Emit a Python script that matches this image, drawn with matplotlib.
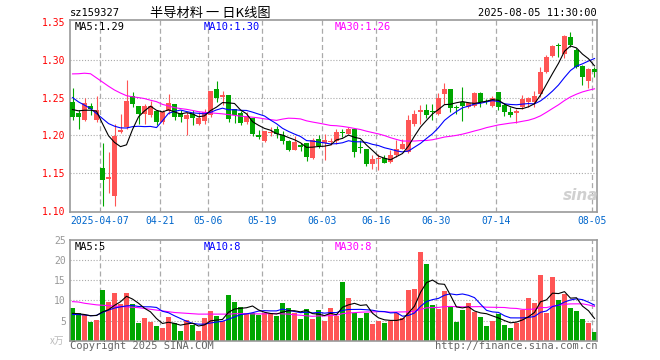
import matplotlib
matplotlib.use("Agg")
import matplotlib.pyplot as plt

plt.rcParams['font.family'] = ['DejaVu Sans Mono']

# ---- daily bars (sz159327, 2025-03-28 .. 2025-08-05) ----
opens = [1.2446, 1.2298, 1.2200, 1.2386, 1.2200, 1.1565, 1.1418, 1.1202, 1.2047, 1.2113,
         1.2518, 1.2386, 1.2280, 1.2276, 1.2320, 1.2179, 1.2324, 1.2412, 1.2298, 1.2223,
         1.2280, 1.2148, 1.2188, 1.2267, 1.2610, 1.2509, 1.2531, 1.2350, 1.2298, 1.2179,
         1.2236, 1.2003, 1.1924, 1.2034, 1.2082, 1.2003, 1.1924, 1.1814, 1.1867, 1.1896,
         1.1697, 1.1949, 1.1905, 1.1915, 1.1924, 1.2047, 1.2025, 1.2082, 1.1850, 1.1818,
         1.1620, 1.1686, 1.1705, 1.1651, 1.1743, 1.1827, 1.1787, 1.2157, 1.2311, 1.2342,
         1.2324, 1.2289, 1.2553, 1.2610, 1.2373, 1.2443, 1.2371, 1.2388, 1.2564, 1.2446,
         1.2388, 1.2573, 1.2402, 1.2314, 1.2292, 1.2371, 1.2446, 1.2446, 1.2542, 1.2842,
         1.3048, 1.3185, 1.3075, 1.3304, 1.3128, 1.2916, 1.2723, 1.2873]
highs = [1.2627, 1.2333, 1.2500, 1.2430, 1.2518, 1.1896, 1.1783, 1.2157, 1.2289, 1.2729,
         1.2575, 1.2386, 1.2420, 1.2452, 1.2320, 1.2333, 1.2553, 1.2420, 1.2333, 1.2310,
         1.2333, 1.2310, 1.2355, 1.2588, 1.2720, 1.2588, 1.2531, 1.2350, 1.2324, 1.2311,
         1.2236, 1.2078, 1.2060, 1.2113, 1.2130, 1.2060, 1.1946, 1.1990, 1.1900, 1.1896,
         1.1960, 1.2000, 1.2016, 1.1970, 1.2091, 1.2091, 1.2113, 1.2082, 1.1946, 1.1818,
         1.1739, 1.1752, 1.1739, 1.1805, 1.1937, 1.1959, 1.2271, 1.2333, 1.2399, 1.2412,
         1.2412, 1.2562, 1.2698, 1.2610, 1.2408, 1.2641, 1.2446, 1.2578, 1.2578, 1.2480,
         1.2520, 1.2573, 1.2424, 1.2371, 1.2344, 1.2534, 1.2512, 1.2586, 1.2908, 1.3062,
         1.3194, 1.3216, 1.3321, 1.3370, 1.3150, 1.2930, 1.2886, 1.2899]
lows = [1.2204, 1.2080, 1.2187, 1.2267, 1.2180, 1.1066, 1.1242, 1.1066, 1.2034, 1.2091,
        1.2377, 1.2157, 1.2157, 1.2245, 1.2135, 1.2157, 1.2280, 1.2200, 1.2179, 1.2003,
        1.2135, 1.2135, 1.2157, 1.2245, 1.2443, 1.2408, 1.2174, 1.2166, 1.2135, 1.2157,
        1.1990, 1.1958, 1.1915, 1.1990, 1.1972, 1.1893, 1.1796, 1.1805, 1.1800, 1.1665,
        1.1690, 1.1830, 1.1673, 1.1870, 1.1893, 1.1980, 1.2016, 1.1717, 1.1774, 1.1594,
        1.1563, 1.1541, 1.1630, 1.1633, 1.1721, 1.1818, 1.1774, 1.2122, 1.2157, 1.2236,
        1.2201, 1.2267, 1.2421, 1.2311, 1.2289, 1.2192, 1.2358, 1.2371, 1.2371, 1.2410,
        1.2370, 1.2336, 1.2256, 1.2239, 1.2168, 1.2344, 1.2380, 1.2371, 1.2512, 1.2820,
        1.3040, 1.3040, 1.3018, 1.3172, 1.2886, 1.2666, 1.2622, 1.2776]
closes = [1.2240, 1.2245, 1.2430, 1.2355, 1.2333, 1.1410, 1.1453, 1.1990, 1.2073, 1.2452,
          1.2420, 1.2289, 1.2386, 1.2386, 1.2179, 1.2310, 1.2434, 1.2245, 1.2245, 1.2267,
          1.2236, 1.2236, 1.2311, 1.2588, 1.2500, 1.2535, 1.2218, 1.2267, 1.2166, 1.2245,
          1.2016, 1.1976, 1.2060, 1.2047, 1.2016, 1.1924, 1.1814, 1.1915, 1.1845, 1.1710,
          1.1940, 1.1860, 1.1935, 1.1924, 1.2047, 1.2038, 1.2082, 1.1783, 1.1840, 1.1620,
          1.1686, 1.1705, 1.1642, 1.1739, 1.1827, 1.1893, 1.2205, 1.2289, 1.2342, 1.2267,
          1.2315, 1.2500, 1.2610, 1.2368, 1.2368, 1.2390, 1.2424, 1.2564, 1.2446, 1.2440,
          1.2490, 1.2380, 1.2314, 1.2270, 1.2327, 1.2481, 1.2498, 1.2520, 1.2842, 1.3040,
          1.3185, 1.3180, 1.3312, 1.3194, 1.2908, 1.2776, 1.2877, 1.2842]
volumes = [8.2, 6.8, 6.5, 4.7, 5.1, 12.6, 9.6, 11.9, 9.1, 11.9,
           9.2, 4.4, 5.7, 4.6, 3.6, 3.1, 5.9, 4.3, 2.4, 5.1,
           4.0, 2.4, 5.7, 7.4, 6.1, 4.8, 11.3, 9.7, 8.3, 6.8,
           7.0, 6.4, 6.8, 6.8, 6.1, 9.3, 8.2, 6.8, 5.4, 7.9,
           5.3, 7.6, 5.0, 8.2, 6.1, 14.6, 10.6, 6.9, 5.6, 6.9,
           4.1, 4.9, 4.4, 4.9, 6.9, 5.6, 12.6, 12.9, 22.0, 19.0,
           8.8, 7.9, 12.3, 8.3, 4.6, 7.6, 9.3, 7.1, 5.9, 3.6,
           4.9, 6.7, 3.9, 3.1, 4.5, 7.6, 10.6, 9.3, 16.3, 6.9,
           15.9, 10.1, 11.7, 8.2, 7.4, 5.5, 4.4, 2.1]

# moving-average lines as drawn on the chart
ma5 = [1.2342, 1.2325, 1.2333, 1.2333, 1.2321, 1.2155, 1.1996, 1.1908, 1.1852, 1.1876,
       1.2078, 1.2245, 1.2324, 1.2387, 1.2332, 1.2310, 1.2339, 1.2311, 1.2283, 1.2300,
       1.2285, 1.2246, 1.2259, 1.2328, 1.2374, 1.2434, 1.2430, 1.2422, 1.2337, 1.2286,
       1.2182, 1.2134, 1.2093, 1.2069, 1.2023, 1.2005, 1.1972, 1.1943, 1.1903, 1.1842,
       1.1845, 1.1854, 1.1858, 1.1874, 1.1941, 1.1961, 1.2005, 1.1975, 1.1958, 1.1873,
       1.1802, 1.1727, 1.1699, 1.1678, 1.1720, 1.1761, 1.1861, 1.1991, 1.2111, 1.2199,
       1.2284, 1.2343, 1.2407, 1.2412, 1.2432, 1.2447, 1.2432, 1.2423, 1.2438, 1.2453,
       1.2473, 1.2464, 1.2414, 1.2379, 1.2356, 1.2354, 1.2378, 1.2419, 1.2534, 1.2676,
       1.2817, 1.2953, 1.3112, 1.3182, 1.3156, 1.3074, 1.3013, 1.2919]
ma10 = [1.2500, 1.2443, 1.2400, 1.2355, 1.2289, 1.2223, 1.2157, 1.2122, 1.2100, 1.2098,
        1.2116, 1.2121, 1.2116, 1.2119, 1.2104, 1.2194, 1.2292, 1.2317, 1.2335, 1.2316,
        1.2298, 1.2292, 1.2285, 1.2305, 1.2337, 1.2360, 1.2338, 1.2340, 1.2332, 1.2330,
        1.2308, 1.2282, 1.2257, 1.2203, 1.2155, 1.2094, 1.2053, 1.2018, 1.1986, 1.1932,
        1.1925, 1.1913, 1.1901, 1.1888, 1.1891, 1.1903, 1.1930, 1.1916, 1.1916, 1.1907,
        1.1882, 1.1866, 1.1837, 1.1818, 1.1796, 1.1782, 1.1794, 1.1845, 1.1895, 1.1960,
        1.2022, 1.2102, 1.2199, 1.2262, 1.2316, 1.2365, 1.2387, 1.2415, 1.2425, 1.2443,
        1.2460, 1.2448, 1.2418, 1.2409, 1.2405, 1.2414, 1.2421, 1.2417, 1.2456, 1.2516,
        1.2586, 1.2666, 1.2766, 1.2858, 1.2916, 1.2946, 1.2983, 1.3016]
ma30 = [1.2813, 1.2815, 1.2822, 1.2815, 1.2760, 1.2705, 1.2650, 1.2600, 1.2560, 1.2525,
        1.2510, 1.2500, 1.2487, 1.2465, 1.2446, 1.2410, 1.2390, 1.2367, 1.2355, 1.2345,
        1.2330, 1.2314, 1.2305, 1.2298, 1.2292, 1.2285, 1.2275, 1.2265, 1.2255, 1.2248,
        1.2241, 1.2232, 1.2219, 1.2209, 1.2199, 1.2216, 1.2228, 1.2225, 1.2218, 1.2193,
        1.2177, 1.2163, 1.2148, 1.2132, 1.2128, 1.2119, 1.2107, 1.2092, 1.2078, 1.2056,
        1.2038, 1.2020, 1.1998, 1.1970, 1.1947, 1.1926, 1.1926, 1.1926, 1.1932, 1.1933,
        1.1943, 1.1960, 1.1979, 1.1989, 1.2001, 1.2017, 1.2037, 1.2059, 1.2079, 1.2103,
        1.2121, 1.2139, 1.2151, 1.2163, 1.2172, 1.2187, 1.2201, 1.2225, 1.2259, 1.2306,
        1.2356, 1.2405, 1.2461, 1.2509, 1.2545, 1.2575, 1.2597, 1.2616]
vol_ma5 = [6.8, 6.7, 6.5, 6.2, 6.26, 7.14, 7.70, 8.78, 9.66, 11.02,
           10.34, 9.30, 8.06, 7.16, 5.50, 4.28, 4.58, 4.30, 3.86, 4.16,
           4.34, 3.64, 3.92, 4.92, 5.12, 5.28, 7.06, 7.86, 8.04, 8.18,
           8.62, 7.64, 7.06, 6.76, 6.62, 7.08, 7.44, 7.44, 7.16, 7.52,
           6.72, 6.60, 6.24, 6.80, 6.44, 8.30, 8.90, 9.28, 8.76, 8.92,
           6.82, 5.68, 5.18, 5.04, 5.04, 5.34, 6.88, 8.58, 12.00, 14.42,
           15.06, 14.12, 14.00, 11.26, 8.38, 8.14, 8.42, 7.38, 6.90, 6.70,
           6.16, 5.64, 5.00, 4.44, 4.62, 5.16, 5.94, 7.02, 9.66, 10.14,
           11.80, 11.70, 12.18, 10.56, 10.66, 8.58, 7.44, 5.52]
vol_ma10 = [6.5, 6.5, 6.4, 6.2, 6.3, 7.0, 7.6, 8.1, 8.4, 8.64,
            8.74, 8.50, 8.42, 8.41, 8.26, 7.31, 6.94, 6.18, 5.51, 4.83,
            4.31, 4.11, 4.11, 4.39, 4.64, 4.81, 5.35, 5.89, 6.48, 6.65,
            6.95, 7.35, 7.46, 7.40, 7.40, 7.85, 7.54, 7.25, 6.96, 7.07,
            6.90, 7.02, 6.84, 6.98, 6.98, 7.51, 7.75, 7.76, 7.78, 7.68,
            7.56, 7.29, 7.23, 6.90, 6.98, 6.08, 6.28, 6.88, 8.52, 9.73,
            10.20, 10.50, 11.29, 11.63, 11.40, 11.60, 11.27, 10.69, 9.08, 7.54,
            7.15, 7.03, 6.19, 5.67, 5.66, 5.66, 5.79, 6.01, 7.05, 7.38,
            8.48, 8.82, 9.60, 10.11, 10.40, 10.19, 9.57, 8.85]
vol_ma30 = [9.7, 9.6, 9.3, 9.1, 8.9, 8.8, 8.7, 8.6, 8.5, 8.4,
            8.3, 8.2, 8.0, 7.8, 7.6, 7.4, 7.2, 7.0, 6.9, 6.8,
            6.7, 6.6, 6.6, 6.6, 6.6, 6.6, 6.6, 6.7, 6.7, 6.71,
            6.67, 6.65, 6.66, 6.73, 6.77, 6.66, 6.61, 6.44, 6.32, 6.18,
            6.05, 6.16, 6.14, 6.26, 6.34, 6.72, 6.88, 6.97, 7.07, 7.13,
            7.14, 7.22, 7.18, 7.09, 7.12, 7.15, 7.19, 7.30, 7.75, 8.16,
            8.22, 8.27, 8.45, 8.50, 8.45, 8.40, 8.43, 8.44, 8.46, 8.32,
            8.30, 8.27, 8.24, 8.07, 8.01, 7.78, 7.78, 7.86, 8.22, 8.22,
            8.61, 8.78, 9.03, 9.14, 9.15, 9.15, 8.88, 8.52]

date_pos = [5, 15, 23, 32, 42, 51, 61, 71, 87]
date_labels = ['2025-04-07', '04-21', '05-06', '05-19', '06-03',
               '06-16', '06-30', '07-14', '08-05']
price_ticks = [1.10, 1.15, 1.20, 1.25, 1.30, 1.35]
vol_ticks = [5, 10, 15, 20, 25]

# -----------------------------------------------------------------------------------------
W, H = 660, 360
RED = '#ff5555'
GREEN = '#00a600'
GRID = '#aaaaaa'
FRAME = '#999999'
CJK = ['Noto Sans CJK SC', 'DejaVu Sans']


def ftext(xp, yp, s, **kw):
    # place text in pixel coordinates of the 660x360 canvas
    fig.text(xp / W, 1 - yp / H, s, **kw)


fig = plt.figure(figsize=(W / 100, H / 100), dpi=100)
ax = fig.add_axes([70 / W, 1 - 211.5 / H, 527 / W, 191.5 / H])
axv = fig.add_axes([70 / W, 1 - 340.7 / H, 527 / W, 100.7 / H])

n = len(closes)
x = list(range(n))
cols = [RED if c >= o else GREEN for o, c in zip(opens, closes)]
grid_x = [p - 0.417 for p in date_pos]

for a in (ax, axv):
    a.set_xlim(-0.417, n - 1 + 0.417)
    for gx in grid_x:
        a.axvline(gx, color=GRID, lw=0.9, ls=(0, (4, 2.5)), zorder=0)
    for s in a.spines.values():
        s.set_color(FRAME)
        s.set_linewidth(1.2)
    a.tick_params(length=0)

# candles
ax.vlines(x, lows, highs, colors=cols, lw=0.8, zorder=2)
bottoms = [min(o, c) for o, c in zip(opens, closes)]
heights = [max(abs(c - o), 0.0011) for o, c in zip(opens, closes)]
ax.bar(x, heights, 0.75, bottoms, color=cols, lw=0, zorder=3)
ax.plot(x, ma30, color='#ff00ff', lw=0.8, zorder=4)
ax.plot(x, ma10, color='#0000ff', lw=0.8, zorder=4)
ax.plot(x, ma5, color='black', lw=0.8, zorder=4)

ax.set_ylim(1.0995, 1.3525)
for y in price_ticks[1:-1]:
    ax.axhline(y, color=GRID, lw=0.8, ls=(0, (1, 1.6)), zorder=0)
ax.set_yticks(price_ticks)
ax.set_yticklabels(['%.2f' % v for v in price_ticks])
ax.tick_params(axis='y', labelcolor='red', labelsize=7, pad=3)
ax.set_xticks(grid_x)
ax.set_xticklabels(date_labels)
ax.tick_params(axis='x', labelcolor='#0066cc', labelsize=7, pad=3)

# volume
axv.bar(x, volumes, 0.83, color=cols, lw=0, zorder=2)
axv.plot(x, vol_ma30, color='#ff00ff', lw=0.8, zorder=4)
axv.plot(x, vol_ma10, color='#0000ff', lw=0.8, zorder=4)
axv.plot(x, vol_ma5, color='black', lw=0.8, zorder=4)
axv.set_ylim(0, 25)
for y in vol_ticks[:-1]:
    axv.axhline(y, color=GRID, lw=0.8, ls=(0, (1, 1.6)), zorder=0)
axv.set_yticks(vol_ticks)
axv.set_yticklabels([str(v) for v in vol_ticks])
axv.tick_params(axis='y', labelcolor='#999999', labelsize=7, pad=3)
axv.set_xticks([])

# header + labels
ftext(70, 13, 'sz159327', fontsize=7.5, va='center')
ftext(150, 13, '半导材料 一 日K线图', fontsize=9.5, va='center', family=CJK)
ftext(597, 13, '2025-08-05 11:30:00', fontsize=7.5, va='center', ha='right')

ftext(75, 26.5, 'MA5:%.2f' % ma5[-1], fontsize=7.5, va='center', color='black')
ftext(204, 26.5, 'MA10:%.2f' % ma10[-1], fontsize=7.5, va='center', color='#0000ff')
ftext(335, 26.5, 'MA30:%.2f' % ma30[-1], fontsize=7.5, va='center', color='#ff00ff')

ftext(75, 247, 'MA5:%d' % int(vol_ma5[-1]), fontsize=7.5, va='center', color='black')
ftext(204, 247, 'MA10:%d' % int(vol_ma10[-1]), fontsize=7.5, va='center', color='#0000ff')
ftext(335, 247, 'MA30:%d' % int(vol_ma30[-1]), fontsize=7.5, va='center', color='#ff00ff')

ftext(64, 341, 'x万', fontsize=7, va='center', ha='right', color='#bbbbbb', family=CJK)
ftext(70, 346, 'Copyright 2025 SINA.COM', fontsize=7.5, va='center', color='#666666')
ftext(597, 346, 'http://finance.sina.com.cn', fontsize=7.5, va='center', ha='right', color='#666666')

# faint sina watermark
ftext(581, 196, 'sina', fontsize=11, va='center', ha='center', color='#d0d0d0',
      fontweight='bold', style='italic', family=['DejaVu Sans'])

fig.savefig('out.png', dpi=100)
